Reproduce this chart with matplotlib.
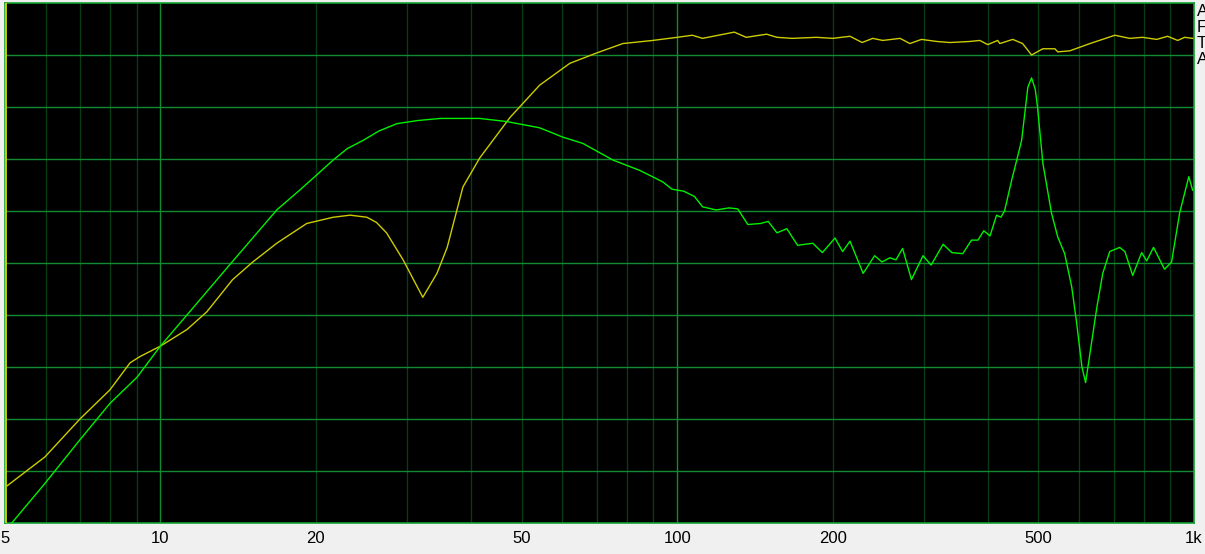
import numpy as np
import matplotlib
matplotlib.use('Agg')
import matplotlib.pyplot as plt
from matplotlib.ticker import FixedLocator, NullFormatter

plt.rcParams['font.family'] = ['Liberation Sans', 'DejaVu Sans']

# green trace: frequency (Hz), level (dB)
green_f = [5.16, 5.98, 6.99, 7.99, 9.01, 10.0, 11.26, 13.5, 16.8, 18.6, 20.0, 21.6, 23.0, 24.7,
           26.5, 28.7, 31.5, 34.8, 41.5, 46.8, 54.2, 60.1, 65.7, 75.1, 84.7, 93.8, 97.7, 103,
           108, 112, 119, 126, 131, 137, 145, 150, 156, 163, 171, 183, 191, 202,
           209, 216, 229, 241, 249, 258, 265, 273, 284, 299, 310, 327, 340, 357,
           371, 382, 392, 403, 415, 423, 430, 444, 454, 464, 477, 485, 493, 498,
           510, 530, 545, 562, 580, 593, 607, 617, 629, 649, 666, 687, 718, 735,
           761, 792, 810, 835, 877, 905, 938, 977, 994]
green_db = [-50.0, -46.2, -42.0, -38.5, -36.0, -33.0, -30.0, -25.4, -19.9, -18.0, -16.6, -15.1, -14.0, -13.2,
            -12.3, -11.6, -11.3, -11.1, -11.1, -11.4, -12.0, -12.9, -13.5, -15.1, -16.1, -17.2, -17.9, -18.1,
            -18.6, -19.6, -19.9, -19.7, -19.8, -21.3, -21.2, -21.0, -22.1, -21.7, -23.3, -23.1, -24.0, -22.6,
            -23.9, -22.9, -26.0, -24.3, -24.9, -24.5, -24.7, -23.6, -26.6, -24.3, -25.2, -23.2, -24.0, -24.1,
            -22.8, -22.8, -21.9, -22.4, -20.4, -20.6, -20.0, -17.0, -15.1, -13.2, -8.1, -7.2, -8.3, -10.0,
            -15.4, -20.2, -22.5, -24.1, -27.3, -30.8, -35.0, -36.5, -33.7, -29.2, -26.0, -23.9, -23.5, -23.9,
            -26.2, -24.0, -24.8, -23.5, -25.6, -24.9, -20.2, -16.7, -18.0]

# yellow trace: frequency (Hz), level (dB)
yellow_f = [5.0, 5.98, 6.99, 7.99, 8.74, 9.13, 10.0, 11.26, 12.3, 13.8, 15.1, 16.8,
            19.2, 21.6, 23.3, 25.1, 26.2, 27.4, 29.5, 32.2, 34.3, 35.9, 38.5, 41.5,
            47.5, 54.2, 62.0, 69.9, 78.5, 89.7, 100, 107, 112, 129, 136, 149, 156,
            167, 186, 200, 216, 228, 239, 250, 270, 282, 297, 318, 337, 368, 385,
            399, 417, 421, 446, 466, 485, 510, 538, 545, 575, 629, 703, 751, 795,
            847, 889, 930, 959, 994]
yellow_db = [-46.6, -43.65, -40.0, -37.2, -34.6, -34.0, -33.0, -31.4, -29.7, -26.6, -24.9, -23.1,
             -21.2, -20.6, -20.4, -20.6, -21.1, -22.1, -24.7, -28.3, -26.0, -23.5, -17.7, -14.9,
             -11.0, -7.9, -5.8, -4.8, -3.9, -3.6, -3.3, -3.1, -3.4, -2.8, -3.3, -3.0, -3.3,
             -3.4, -3.3, -3.4, -3.2, -3.8, -3.4, -3.6, -3.4, -3.9, -3.5, -3.7, -3.8, -3.7, -3.6,
             -4.0, -3.6, -3.9, -3.5, -3.9, -5.0, -4.4, -4.4, -4.7, -4.6, -3.9, -3.1, -3.4, -3.3,
             -3.5, -3.2, -3.6, -3.3, -3.4]

tick_pos = [5, 10, 20, 50, 100, 200, 500, 1000]
tick_lbl = ['5', '10', '20', '50', '100', '200', '500', '1k']
cursor_f = 5.02

fig = plt.figure(figsize=(12.05, 5.54), dpi=100, facecolor='#f0f0f0')
ax = fig.add_axes([4.7 / 1205, 31 / 554, (1194 - 4.7) / 1205, 520 / 554])
ax.set_facecolor('black')
ax.set_xscale('log')
ax.set_xlim(5, 1000)
ax.set_ylim(-50, 0)

# grid
minor = [m * d for d in (1, 10, 100) for m in range(2, 10) if 5 < m * d < 1000]
for f in minor:
    ax.axvline(f, color='#083c14', lw=1.0, zorder=1)
for f in (10, 100):
    ax.axvline(f, color='#128a32', lw=1.0, zorder=1)
for y in np.arange(-45, 0, 5):
    ax.axhline(y, color='#128a32', lw=1.0, zorder=1)

ax.axvline(cursor_f, color='#d8d800', lw=1.3, zorder=3)

ax.plot(yellow_f, yellow_db, color='#cccc00', lw=1.0, zorder=4)
ax.plot(green_f, green_db, color='#00f000', lw=1.0, zorder=5)

for s in ax.spines.values():
    s.set_color('#10a030')
    s.set_linewidth(1.2)

ax.xaxis.set_major_locator(FixedLocator(tick_pos))
ax.set_xticklabels(tick_lbl)
ax.xaxis.set_minor_formatter(NullFormatter())
ax.tick_params(axis='x', which='both', length=0, pad=6, labelsize=12, colors='black')
ax.set_yticks([])

# legend letters at the right edge, cut by the window edge as in the original
for i, t in enumerate(['A', 'F', 'T', 'A']):
    fig.text(1197 / 1205, 1 - (4 + 16 * i) / 554, t, fontsize=12, va='top', ha='left')

fig.savefig('out.png', dpi=100, facecolor=fig.get_facecolor())
